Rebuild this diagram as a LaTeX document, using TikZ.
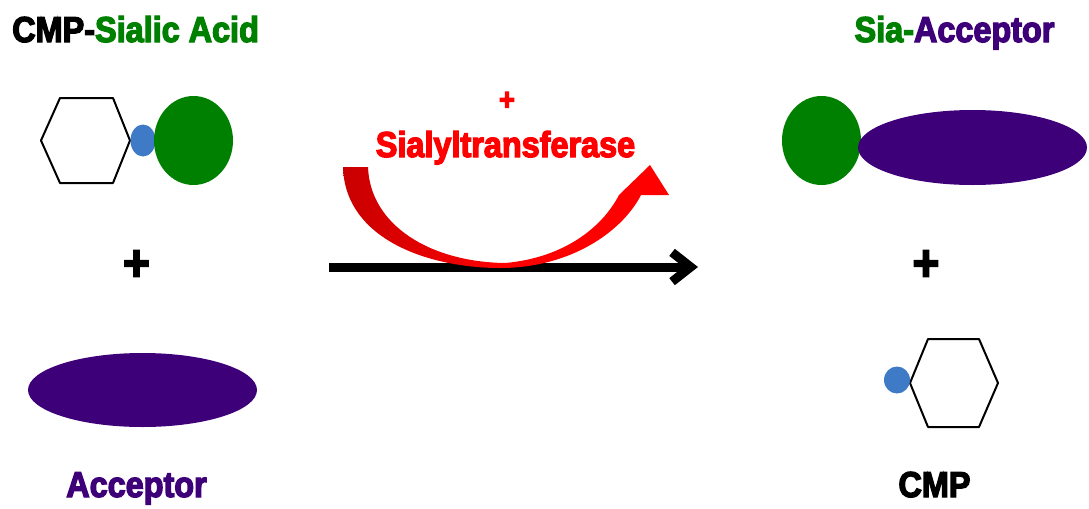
\documentclass[tikz,border=0pt]{standalone}
\usepackage{fontspec}
\newfontfamily\heavy[FakeBold=3.6,FakeStretch=0.9]{Liberation Sans Bold}
\usetikzlibrary{arrows.meta,shapes.geometric}
\definecolor{sgreen}{RGB}{0,128,0}
\definecolor{spurple}{RGB}{62,0,121}
\definecolor{sblue}{RGB}{62,122,198}
\definecolor{sdark}{RGB}{200,0,0}
\tikzset{
  lbl/.style={inner sep=0pt, font=\heavy\fontsize{27}{27}\selectfont},
  plus/.style={inner sep=0pt, font=\heavy\fontsize{38}{38}\selectfont},
  hexline/.style={draw=black, line width=1.5pt, fill=white, line join=round},
  blob/.style={ellipse, inner sep=0pt, draw=none},
}
\begin{document}
\begin{tikzpicture}[x=0.75pt, y=-0.75pt]
\useasboundingbox (0,0) rectangle (1089,508);
% ---------------- left reactants
\node[lbl, anchor=base west] (t1) at (12,42) {CMP-{\color{sgreen}Sialic Acid}};
\draw[hexline] (60,98) -- (113,98) -- (130,140.5) -- (113,183) -- (60,183) -- (41,140.5) -- cycle;
\node[blob, fill=sblue, minimum width=18.75pt, minimum height=24pt] (b1) at (143,140.5) {};
\node[blob, fill=sgreen, minimum width=59.25pt, minimum height=66.75pt] (g1) at (193.5,140.5) {};
\node[plus] (p1) at (136.5,265.5) {+};
\node[blob, fill=spurple, minimum width=171.75pt, minimum height=55.5pt] (acc) at (142.5,390) {};
\node[lbl, anchor=base, text=spurple] (t2) at (136.5,497) {Acceptor};
% ---------------- middle
\coordinate (a1) at (329,267);
\coordinate (a2) at (698,267);
\draw[line width=6.75pt, -{Straight Barb[length=14pt,width=22pt]}] (a1) -- (a2);
\shade[left color=sdark, right color=red, middle color=red]
  (343,167) .. controls (345,240) and (430,268) .. (500,268)
  .. controls (570,268) and (622,232) .. (641,195)
  -- (669,195) -- (650,165) -- (619,195)
  .. controls (602,228) and (563,258) .. (505,263)
  .. controls (430,262) and (370,225) .. (368,167) -- cycle;
\node[plus, text=red, font=\heavy\fontsize{23}{23}\selectfont] (p2) at (507,101) {+};
\node[lbl, anchor=base, text=red] (t3) at (505.5,157) {Sialyltransferase};
% ---------------- right products
\node[lbl, anchor=base] (t4) at (954.5,42) {{\color{sgreen}Sia-}{\color{spurple}Acceptor}};
\node[blob, fill=sgreen, minimum width=59.25pt, minimum height=66.75pt] (g2) at (821.5,140.5) {};
\node[blob, fill=spurple, minimum width=171.75pt, minimum height=56.25pt] (acc2) at (972.5,147.5) {};
\node[plus] (p3) at (926,265.5) {+};
\draw[hexline] (928,339) -- (979,339) -- (998,383) -- (979,427) -- (928,427) -- (910,383) -- cycle;
\node[blob, fill=sblue, minimum width=19.5pt, minimum height=20.25pt] (b2) at (897,380) {};
\node[lbl, anchor=base] (t5) at (934.5,497) {CMP};
\end{tikzpicture}
\end{document}
